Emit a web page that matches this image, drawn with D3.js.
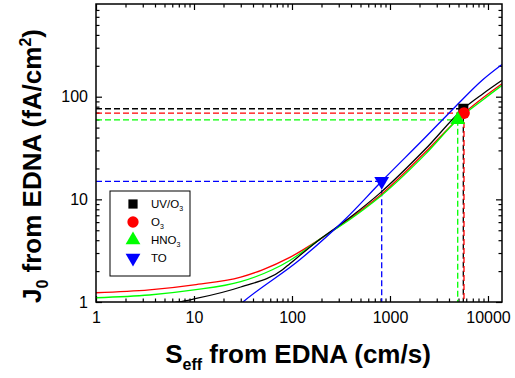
<!DOCTYPE html>
<html><head><meta charset="utf-8">
<script src="https://cdn.jsdelivr.net/npm/d3@7/dist/d3.min.js"></script>
<style>body{margin:0;background:#fff}svg{display:block;font-family:"Liberation Sans",Arial,sans-serif}</style>
</head><body><svg id="c" width="515" height="378"></svg>
<script>
// ---- data ----
const seriesNames = ["UV/O3", "O3", "HNO3", "TO"];
const seriesColors = ["#000000", "#ff0000", "#00ff00", "#0000ff"];
const sBlack = [1, 3.5, 7, 10, 30, 80, 95, 190, 390, 790, 2300, 5600, 8900, 13900];
const jBlack = [0.88, 0.94, 1.0, 1.07, 1.40, 2.06, 2.36, 4.05, 6.66, 11.5, 30.9, 76.3, 107, 144.5];
const sRed = [1, 3.5, 10, 30, 50, 95, 190, 390, 790, 2300, 5700, 8900, 13900];
const jRed = [1.23, 1.31, 1.47, 1.75, 2.06, 2.72, 4.05, 6.51, 10.9, 28.9, 69.2, 97.8, 134];
const sGreen = [1, 3.5, 10, 30, 63, 95, 190, 390, 790, 2300, 4900, 8900, 13900];
const jGreen = [1.10, 1.17, 1.31, 1.58, 2.06, 2.54, 4.05, 6.37, 10.6, 27.6, 59.5, 93.5, 129];
const sBlue = [20, 31.6, 120, 347, 823, 2300, 4430, 8900, 13900];
const jBlue = [0.68, 1.0, 2.58, 6.37, 15.0, 40.2, 76.3, 147, 206];
const markerS = [5600, 5690, 4910, 823];
const markerJ = [76.3, 69.2, 59.5, 15.0];
const xTickValues = [1, 10, 100, 1000, 10000];
const yTickValues = [1, 10, 100];
const xDomain = [1, 13900];
const yDomain = [1, 800];

// ---- chart ----
const svg = d3.select("#c");
const L = 96, R = 502, T = 4, B = 302;
const x = d3.scaleLog().domain(xDomain).range([L, R]);
const y = d3.scaleLog().domain(yDomain).range([B, T]);

function minors(domain) {
  const out = [];
  for (let e = -1; e < 6; e++) for (let m = 2; m <= 9; m++) {
    const v = m * Math.pow(10, e);
    if (v > domain[0] && v < domain[1]) out.push(v);
  }
  return out;
}
const xMinor = minors(xDomain), yMinor = minors(yDomain);

svg.append("clipPath").attr("id", "clip").append("rect")
  .attr("x", L).attr("y", T).attr("width", R - L).attr("height", B - T);

// axes
function styleAxis(g) {
  g.select(".domain").remove();
  g.selectAll(".tick line").attr("stroke", "#000").attr("stroke-width", 1.2);
  g.selectAll("text").attr("font-size", 16).attr("fill", "#000")
    .attr("font-family", '"Liberation Sans",Arial,sans-serif');
}
svg.append("g").attr("transform", `translate(0,${B})`)
  .call(d3.axisBottom(x).tickValues(xTickValues).tickFormat(d3.format("d")).tickSize(-6).tickPadding(10))
  .call(styleAxis);
svg.append("g").attr("transform", `translate(0,${B})`)
  .call(d3.axisBottom(x).tickValues(xMinor).tickFormat("").tickSize(-3.5)).call(styleAxis);
svg.append("g").attr("transform", `translate(0,${T})`)
  .call(d3.axisTop(x).tickValues(xTickValues).tickFormat("").tickSize(-6)).call(styleAxis);
svg.append("g").attr("transform", `translate(0,${T})`)
  .call(d3.axisTop(x).tickValues(xMinor).tickFormat("").tickSize(-3.5)).call(styleAxis);
svg.append("g").attr("transform", `translate(${L},0)`)
  .call(d3.axisLeft(y).tickValues(yTickValues).tickFormat(d3.format("d")).tickSize(-6).tickPadding(8))
  .call(styleAxis);
svg.append("g").attr("transform", `translate(${L},0)`)
  .call(d3.axisLeft(y).tickValues(yMinor).tickFormat("").tickSize(-3.5)).call(styleAxis);
svg.append("g").attr("transform", `translate(${R},0)`)
  .call(d3.axisRight(y).tickValues(yTickValues).tickFormat("").tickSize(-6)).call(styleAxis);
svg.append("g").attr("transform", `translate(${R},0)`)
  .call(d3.axisRight(y).tickValues(yMinor).tickFormat("").tickSize(-3.5)).call(styleAxis);

// dashed guide lines
const plot = svg.append("g").attr("clip-path", "url(#clip)");
markerS.forEach((s, i) => {
  const c = seriesColors[i];
  plot.append("line").attr("x1", x(xDomain[0])).attr("x2", x(s))
    .attr("y1", y(markerJ[i])).attr("y2", y(markerJ[i]))
    .attr("stroke", c).attr("stroke-width", 1.3).attr("stroke-dasharray", "6,3");
  plot.append("line").attr("x1", x(s)).attr("x2", x(s))
    .attr("y1", y(markerJ[i])).attr("y2", y(yDomain[0]))
    .attr("stroke", c).attr("stroke-width", 1.3).attr("stroke-dasharray", "6,3");
});

// curves
const curves = [[sBlack, jBlack], [sRed, jRed], [sGreen, jGreen], [sBlue, jBlue]];
const line = d3.line().x(d => x(d[0])).y(d => y(d[1])).curve(d3.curveMonotoneX);
[1, 2, 0, 3].forEach(i => {
  const [s, j] = curves[i];
  plot.append("path").datum(s.map((v, k) => [v, j[k]]))
    .attr("d", line).attr("fill", "none").attr("stroke", seriesColors[i]).attr("stroke-width", 1.3);
});

// frame
svg.append("rect").attr("x", L).attr("y", T).attr("width", R - L).attr("height", B - T)
  .attr("fill", "none").attr("stroke", "#000").attr("stroke-width", 1.5);

// markers
const sym = [
  d3.symbol().type(d3.symbolSquare).size(100),
  d3.symbol().type(d3.symbolCircle).size(110),
  d3.symbol().type(d3.symbolTriangle).size(95),
  d3.symbol().type(d3.symbolTriangle).size(95)
];
markerS.forEach((s, i) => {
  svg.append("path").attr("d", sym[i]())
    .attr("transform", `translate(${x(s)},${y(markerJ[i])})${i === 3 ? " rotate(180)" : ""}`)
    .attr("fill", seriesColors[i]);
});

// legend
const lg = svg.append("g");
lg.append("rect").attr("x", 110).attr("y", 191).attr("width", 80).attr("height", 85)
  .attr("fill", "#fff").attr("stroke", "#000").attr("stroke-width", 1);
const legSym = [
  d3.symbol().type(d3.symbolSquare).size(85),
  d3.symbol().type(d3.symbolCircle).size(100),
  d3.symbol().type(d3.symbolTriangle).size(95),
  d3.symbol().type(d3.symbolTriangle).size(95)
];
seriesNames.forEach((n, i) => {
  const cy = 204 + i * 18;
  lg.append("path").attr("d", legSym[i]())
    .attr("transform", `translate(133,${cy})${i === 3 ? " rotate(180)" : ""}`)
    .attr("fill", seriesColors[i]);
  const t = lg.append("text").attr("x", 151).attr("y", cy + 4).attr("font-size", 11.5).attr("fill", "#000");
  if (n.endsWith("3")) {
    t.append("tspan").text(n.slice(0, -1));
    t.append("tspan").attr("dy", 3).attr("font-size", 7).text("3");
  } else t.text(n);
});

// axis titles
const xt = svg.append("text").attr("x", 298).attr("y", 363).attr("text-anchor", "middle")
  .attr("font-size", 26).attr("font-weight", "bold").attr("fill", "#000");
xt.append("tspan").text("S");
xt.append("tspan").attr("dy", 7).attr("font-size", 16).text("eff");
xt.append("tspan").attr("dy", -7).text(" from EDNA (cm/s)");

const yt = svg.append("text").attr("transform", "translate(41,166) rotate(-90)").attr("text-anchor", "middle")
  .attr("font-size", 26).attr("font-weight", "bold").attr("fill", "#000");
yt.append("tspan").text("J");
yt.append("tspan").attr("dy", 7).attr("font-size", 16).text("0");
yt.append("tspan").attr("dy", -7).text(" from EDNA (fA/cm");
yt.append("tspan").attr("dy", -10).attr("font-size", 16).text("2");
yt.append("tspan").attr("dy", 10).text(")");
</script></body></html>
